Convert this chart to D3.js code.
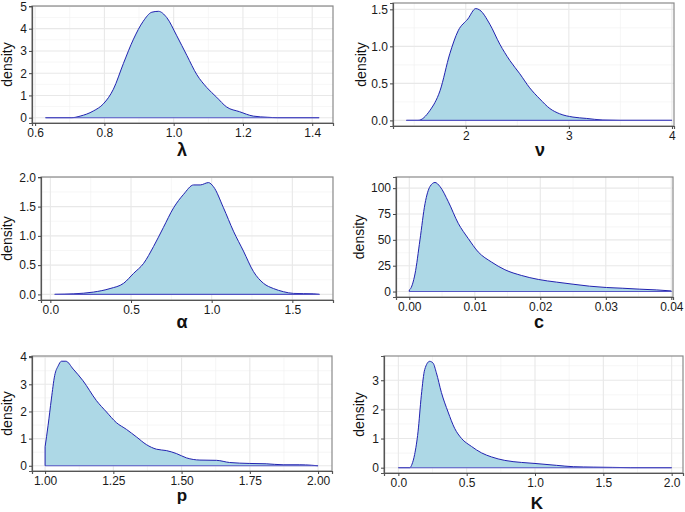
<!DOCTYPE html>
<html><head><meta charset="utf-8">
<script src="https://cdnjs.cloudflare.com/ajax/libs/d3/7.8.5/d3.min.js"></script>
<style>body{margin:0;background:#fff}svg{display:block}</style>
</head><body>
<svg id="c" width="685" height="512"></svg>
<script>
// ---- data ----
const lambdaX = [0.63,0.706,0.73,0.768,0.797,0.826,0.855,0.884,0.912,0.937,0.956,0.98,1.009,1.038,1.067,1.096,1.124,1.153,1.19,1.23,1.27,1.30,1.42];
const lambdaY = [0,0,0.07,0.3,0.62,1.28,2.44,3.53,4.33,4.74,4.78,4.5,3.68,2.8,1.93,1.35,0.92,0.48,0.27,0.07,0.02,0,0];

const nuX = [1.424,1.537,1.65,1.75,1.845,1.926,2.02,2.097,2.136,2.233,2.33,2.427,2.524,2.62,2.718,2.816,2.91,3.04,3.17,3.33,3.5,4.0];
const nuY = [0,0,0.13,0.4,0.9,1.21,1.37,1.51,1.49,1.30,1.03,0.81,0.63,0.44,0.29,0.16,0.09,0.045,0.027,0.005,0,0];

const alphaX = [0.027,0.145,0.268,0.37,0.454,0.516,0.578,0.64,0.70,0.764,0.826,0.888,0.929,0.98,1.011,1.073,1.135,1.197,1.259,1.321,1.383,1.445,1.507,1.63,1.668];
const alphaY = [0,0.01,0.04,0.1,0.19,0.36,0.53,0.82,1.14,1.48,1.71,1.87,1.87,1.91,1.84,1.48,1.08,0.74,0.39,0.19,0.1,0.046,0.017,0.01,0];

const cX = [0,0.0001,0.00087,0.00163,0.0024,0.00316,0.00392,0.00468,0.00595,0.00747,0.009,0.01052,0.01256,0.01459,0.0171,0.0197,0.0225,0.025,0.0275,0.0301,0.0326,0.0352,0.0377,0.04];
const cY = [1.5,2,17,50,85,101.6,105.5,101.6,87,66,51.3,38.3,28.5,21.1,15.6,11.7,9.1,7.1,5.2,3.9,3.2,2.3,1.6,0.6];

const pX = [1.0,1.011,1.023,1.035,1.048,1.06,1.076,1.103,1.139,1.188,1.225,1.261,1.298,1.335,1.371,1.408,1.444,1.481,1.518,1.567,1.628,1.676,1.75,1.81,1.872,1.933,1.976,2.0];
const pY = [0.7,1.49,2.46,3.32,3.68,3.85,3.85,3.56,3.13,2.4,1.98,1.59,1.34,1.06,0.78,0.61,0.56,0.45,0.29,0.21,0.2,0.12,0.085,0.073,0.037,0.037,0.02,0];

const kX = [0,0.083,0.1,0.119,0.144,0.168,0.193,0.229,0.254,0.278,0.315,0.364,0.412,0.461,0.535,0.608,0.681,0.779,0.9,1.0,1.158,1.28,1.426,1.568,1.7,2.0];
const kY = [0,0,0.12,0.45,1.23,2.47,3.37,3.65,3.59,3.26,2.58,1.91,1.35,1.01,0.73,0.51,0.37,0.25,0.18,0.145,0.08,0.034,0.02,0.01,0,0];

const xTitles = ["λ","ν","α","c","p","K"];
const xTicks = [[0.6,0.8,1.0,1.2,1.4],[2,3,4],[0,0.5,1,1.5],[0,0.01,0.02,0.03,0.04],[1,1.25,1.5,1.75,2],[0,0.5,1,1.5,2]];
const xFormats = [".1f","d",".1f",".2f",".2f",".1f"];
const yTicks = [[0,1,2,3,4,5],[0,0.5,1,1.5],[0,0.5,1,1.5,2],[0,25,50,75,100],[0,1,2,3,4],[0,1,2,3]];
const yFormats = ["d",".1f",".1f","d","d","d"];
const xDomains = [[0.591,1.46],[1.294,4.02],[-0.058,1.752],[-0.00203,0.04026],[0.952,2.051],[-0.105,2.083]];
const yLabel = "density";

// ---- layout ----
const panels = [
  {x:lambdaX,y:lambdaY,l:32,t:6,r:333,b:123,yl:12,tx:182,ty:156},
  {x:nuX,y:nuY,l:393,t:3,r:674,b:126,yl:366,tx:540,ty:156},
  {x:alphaX,y:alphaY,l:41,t:177,r:333,b:300,yl:12,tx:182,ty:328},
  {x:cX,y:cY,l:396,t:177,r:673,b:297,yl:364,tx:539,ty:328},
  {x:pX,y:pY,l:32,t:356,r:332,b:471,yl:12,tx:182,ty:501},
  {x:kX,y:kY,l:384,t:356,r:683,b:473,yl:364,tx:537,ty:509}
];

const svg = d3.select("#c");
const font = "'Liberation Sans', Arial, sans-serif";

function minors(ticks, dom){
  const step = ticks[1]-ticks[0];
  const out = [];
  for (let v = ticks[0]-step/2; v <= ticks[ticks.length-1]+step/2+1e-9; v += step){
    if (v>=dom[0] && v<=dom[1]) out.push(v);
  }
  return out;
}

panels.forEach((P,i)=>{
  const g = svg.append("g");
  const ymax = d3.max(P.y);
  const x = d3.scaleLinear().domain(xDomains[i]).range([P.l,P.r]);
  const y = d3.scaleLinear().domain([-0.05*ymax,1.05*ymax]).range([P.b,P.t]);
  const xd = xDomains[i], yd = y.domain();

  g.selectAll(".gxm").data(minors(xTicks[i],xd)).join("line")
    .attr("x1",d=>x(d)).attr("x2",d=>x(d)).attr("y1",P.t).attr("y2",P.b)
    .attr("stroke","#f0f0f0").attr("stroke-width",0.6);
  g.selectAll(".gym").data(minors(yTicks[i],yd)).join("line")
    .attr("y1",d=>y(d)).attr("y2",d=>y(d)).attr("x1",P.l).attr("x2",P.r)
    .attr("stroke","#f0f0f0").attr("stroke-width",0.6);
  g.selectAll(".gx").data(xTicks[i]).join("line")
    .attr("x1",d=>x(d)).attr("x2",d=>x(d)).attr("y1",P.t).attr("y2",P.b)
    .attr("stroke","#e8e8e8").attr("stroke-width",1.1);
  g.selectAll(".gy").data(yTicks[i]).join("line")
    .attr("y1",d=>y(d)).attr("y2",d=>y(d)).attr("x1",P.l).attr("x2",P.r)
    .attr("stroke","#e8e8e8").attr("stroke-width",1.1);

  const pts = P.x.map((v,j)=>[v,P.y[j]]);
  const area = d3.area().x(d=>x(d[0])).y0(y(0)).y1(d=>y(d[1])).curve(d3.curveMonotoneX);
  g.append("path").datum(pts).attr("d",area).attr("fill","#ADD8E6");
  const line = d3.line().x(d=>x(d[0])).y(d=>y(d[1])).curve(d3.curveMonotoneX);
  g.append("path").datum(pts).attr("d",line).attr("fill","none").attr("stroke","#2222b0").attr("stroke-width",1);
  g.append("line").attr("x1",x(P.x[0])).attr("x2",x(P.x[P.x.length-1])).attr("y1",y(0)).attr("y2",y(0))
    .attr("stroke","#5555c4").attr("stroke-width",1.1);
  if (P.y[0]>0) g.append("line").attr("x1",x(P.x[0])).attr("x2",x(P.x[0])).attr("y1",y(0)).attr("y2",y(P.y[0]))
    .attr("stroke","#2222b0").attr("stroke-width",1);
  const n = P.x.length-1;
  if (P.y[n]>0) g.append("line").attr("x1",x(P.x[n])).attr("x2",x(P.x[n])).attr("y1",y(0)).attr("y2",y(P.y[n]))
    .attr("stroke","#2222b0").attr("stroke-width",1);

  g.append("rect").attr("x",P.l).attr("y",P.t).attr("width",P.r-P.l).attr("height",P.b-P.t)
    .attr("fill","none").attr("stroke","#8a8a8a").attr("stroke-width",1.2);

  const xa = d3.axisBottom(x).tickValues(xTicks[i]).tickFormat(d3.format(xFormats[i])).tickSize(3).tickPadding(2);
  const ya = d3.axisLeft(y).tickValues(yTicks[i]).tickFormat(d3.format(yFormats[i])).tickSize(3).tickPadding(2);
  const gx = g.append("g").attr("transform",`translate(0,${P.b})`).call(xa);
  const gy = g.append("g").attr("transform",`translate(${P.l},0)`).call(ya);
  [gx,gy].forEach(a=>{
    a.select(".domain").attr("stroke","#555").attr("stroke-width",1.2);
    a.selectAll(".tick line").attr("stroke","#444");
    a.selectAll(".tick text").attr("fill","#1a1a1a").style("font-family",font).style("font-size","12px");
  });

  g.append("text").attr("x",P.tx).attr("y",P.ty).attr("text-anchor","middle")
    .style("font-family",font).style("font-size",(i===4||i===5)?"17px":"18px").style("font-weight","bold").attr("fill","#111")
    .text(xTitles[i]);
  g.append("text").attr("transform",`translate(${P.yl},${(P.t+P.b)/2}) rotate(-90)`).attr("text-anchor","middle")
    .style("font-family",font).style("font-size","14px").attr("fill","#111").text(yLabel);
});
</script>
</body></html>
